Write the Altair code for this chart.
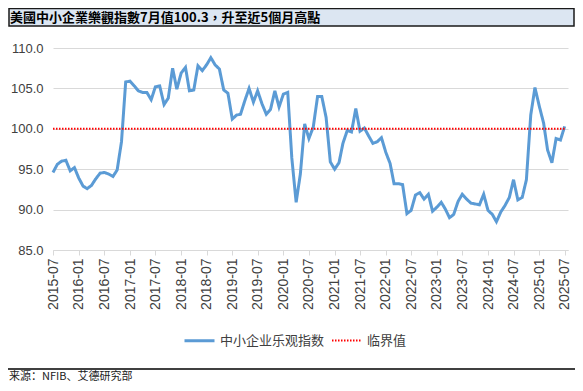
import altair as alt
import pandas as pd

# ---- data ----
start_month = "2015-07-01"
index_values = [
    94.6, 95.6, 96.0, 96.1, 94.8, 95.2,                     # 2015-07..12
    93.9, 92.9, 92.6, 93.0, 93.8, 94.5, 94.6, 94.4, 94.1, 94.9, 98.4, 105.8,   # 2016
    105.9, 105.3, 104.7, 104.5, 104.5, 103.6, 105.2, 105.3, 103.0, 103.8, 107.5, 104.9,  # 2017
    106.9, 107.6, 104.7, 104.8, 107.8, 107.2, 107.9, 108.8, 107.9, 107.4, 104.8, 104.4,  # 2018
    101.2, 101.7, 101.8, 103.5, 105.0, 103.3, 104.7, 103.1, 101.8, 102.4, 104.7, 102.7,  # 2019
    104.3, 104.5, 96.4, 90.9, 94.4, 100.6, 98.8, 100.2, 104.0, 104.0, 101.4, 95.9,       # 2020
    95.0, 95.8, 98.2, 99.8, 99.6, 102.5, 99.7, 100.1, 99.1, 98.2, 98.4, 98.9,            # 2021
    97.1, 95.7, 93.2, 93.2, 93.1, 89.5, 89.9, 91.8, 92.1, 91.3, 91.9, 89.8,              # 2022
    90.3, 90.9, 90.1, 89.0, 89.4, 91.0, 91.9, 91.3, 90.8, 90.7, 90.6, 91.9,              # 2023
    89.9, 89.4, 88.5, 89.7, 90.5, 91.5, 93.7, 91.2, 91.5, 93.7, 101.7, 105.1,            # 2024
    102.8, 100.7, 97.4, 95.8, 98.8, 98.6, 100.3,                                         # 2025-01..07
]
threshold = 100.0
series_names = ["中小企业乐观指数", "临界值"]
series_colors = ["#5b9bd5", "#ff0000"]
y_ticks = [85, 90, 95, 100, 105, 110]
x_tick_months = [(y, m) for y in range(2015, 2026) for m in (1, 7) if (2015, 7) <= (y, m) <= (2025, 7)]
title_text = "美國中小企業樂觀指數7月值100.3，升至近5個月高點"
source_text = "来源：NFIB、艾德研究部"

# ---- table ----
n = len(index_values)
dates = pd.date_range(start_month, periods=n, freq="MS").strftime("%Y/%m/%d").tolist()
df = pd.DataFrame({
    "date": dates * 2,
    "value": index_values + [threshold] * n,
    "series": [series_names[0]] * n + [series_names[1]] * n,
})

W, H = 515, 202
PL, PT, PR, PB = 45, 40, 7, 133

legend = alt.Legend(
    title=None, orient="none", legendX=130, legendY=276, direction="horizontal",
    symbolType="stroke", symbolSize=900, labelFontSize=13, labelFont="Noto Sans CJK SC",
    labelColor="#404040", labelOffset=4, columnPadding=3, labelLimit=200,
)

lines = alt.Chart(df).mark_line().encode(
    x=alt.X(
        "date:T",
        scale=alt.Scale(domain=[alt.DateTime(year=2015, month=7, date=1),
                                alt.DateTime(year=2025, month=7, date=25)]),
        axis=alt.Axis(
            values=[alt.DateTime(year=y, month=m, date=1) for y, m in x_tick_months],
            format="%Y-%m", labelAngle=270, title=None, grid=False,
            domainColor="#d9d9d9", tickColor="#d9d9d9", tickSize=5,
            labelFont="Liberation Sans", labelFontSize=14, labelColor="#404040",
            labelPadding=3, labelOverlap=False,
        ),
    ),
    y=alt.Y(
        "value:Q",
        scale=alt.Scale(domain=[85, 110], nice=False, zero=False),
        axis=alt.Axis(
            values=y_ticks, format=".1f", title=None, domain=False, ticks=False,
            gridColor="#d9d9d9", labelFont="Liberation Sans", labelFontSize=13,
            labelColor="#404040", labelPadding=10,
        ),
    ),
    color=alt.Color("series:N", scale=alt.Scale(domain=series_names, range=series_colors), legend=legend),
    strokeDash=alt.StrokeDash("series:N", scale=alt.Scale(domain=series_names, range=[[1, 0], [1.5, 1.5]]), legend=legend),
    strokeWidth=alt.StrokeWidth("series:N", scale=alt.Scale(domain=series_names, range=[3, 2]), legend=legend),
)

one = pd.DataFrame({"t": [title_text], "s": [source_text]})

title_bar = alt.Chart(one).mark_rect(fill="#dce6f2", stroke="#1a1a1a", strokeWidth=1.5).encode(
    x=alt.value(-44), x2=alt.value(521), y=alt.value(-39.5), y2=alt.value(-22)
)
title_txt = alt.Chart(one).mark_text(
    align="left", baseline="middle", fontSize=13, fontWeight="bold",
    font="Noto Sans CJK TC", color="#000000",
).encode(text="t:N", x=alt.value(-43), y=alt.value(-30.5))

footer_rule = alt.Chart(one).mark_rule(color="#000000", strokeWidth=1.5).encode(
    x=alt.value(-45), x2=alt.value(522), y=alt.value(321)
)
footer_txt = alt.Chart(one).mark_text(
    align="left", baseline="middle", fontSize=11, font="Noto Sans CJK SC", color="#1a1a1a",
).encode(text="s:N", x=alt.value(-44), y=alt.value(329))

chart = alt.layer(title_bar, title_txt, lines, footer_rule, footer_txt).properties(
    width=W, height=H,
    autosize=alt.AutoSizeParams(type="none"),
    padding={"left": PL, "top": PT, "right": PR, "bottom": PB},
).configure_view(stroke=None)

chart.save("out.html", embed_options={"renderer": "svg", "actions": False})
